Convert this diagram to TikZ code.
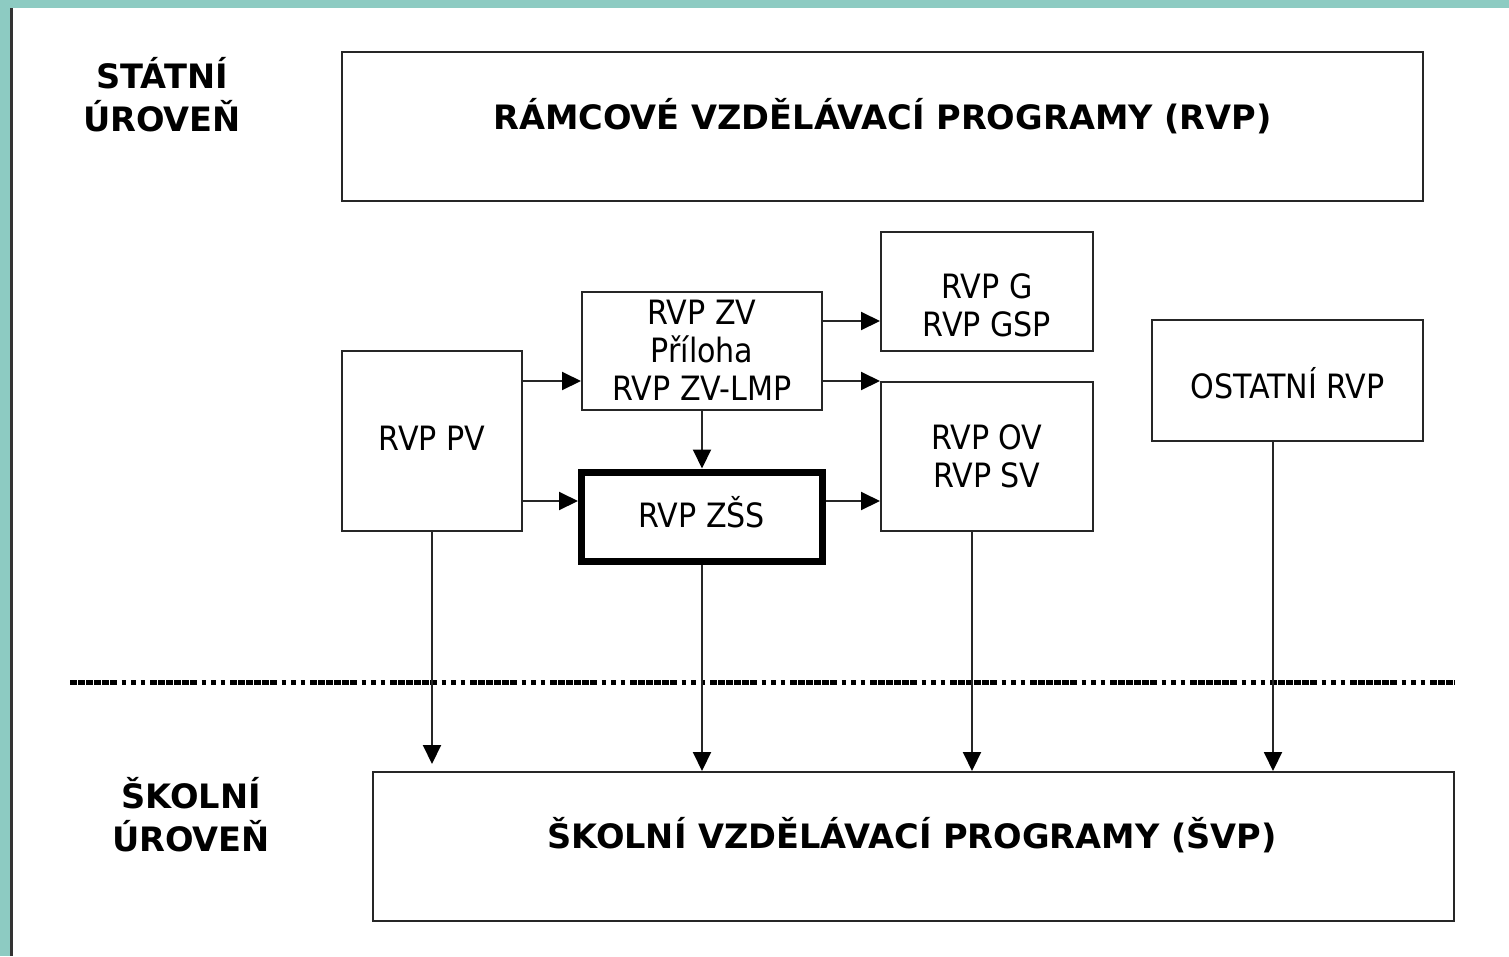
\documentclass[tikz,border=0pt]{standalone}
\usepackage{fontspec}
\setmainfont{DejaVu Sans}
\newfontfamily\condf{DejaVu Sans Condensed}
\usetikzlibrary{arrows.meta}
\definecolor{tealband}{HTML}{8DCBC2}
\definecolor{edge}{HTML}{333333}
\begin{document}
\begin{tikzpicture}[x=1pt,y=-1pt,
  box/.style={draw=black!85, line width=2pt, inner sep=0pt, fill=white},
  lbl/.style={font=\condf\fontsize{33.5}{38}\selectfont, align=center, inner sep=0pt},
  hdr/.style={font=\bfseries\fontsize{33.6}{43}\selectfont, align=center, inner sep=0pt},
  arr/.style={draw=black!85, line width=2pt, -{Triangle[length=19pt,width=18pt,color=black]}},
]
\useasboundingbox (0,0) rectangle (1509,956);
\fill[white] (0,0) rectangle (1509,956);
\fill[tealband] (0,0) rectangle (1509,8);
\fill[tealband] (0,0) rectangle (10,956);
\draw[edge, line width=2.5pt] (11.5,8) -- (11.5,956);

% separator
\draw[line width=5pt, dash pattern={on 6.5pt off 1.5pt on 6.5pt off 1.5pt on 6.5pt off 1.5pt on 6.5pt off 1.5pt on 6.5pt off 1.5pt on 6.5pt off 5pt on 4.5pt off 5pt on 4.5pt off 5pt on 4.5pt off 5pt}] (70,682) -- (1455,682);

% headers
\node[hdr] (statni) at (162,95) {STÁTNÍ\\ÚROVEŇ};
\node[hdr] (skolni) at (191,815) {ŠKOLNÍ\\ÚROVEŇ};

% big boxes
\node[box, minimum width=1081pt, minimum height=149pt] (rvp) at (882.5,126.5) {};
\node[hdr] (rvpt) at (882.5,116) {RÁMCOVÉ VZDĚLÁVACÍ PROGRAMY (RVP)};
\node[box, minimum width=1081pt, minimum height=149pt] (svp) at (913.5,846.5) {};
\node[hdr] (svpt) at (912,835) {ŠKOLNÍ VZDĚLÁVACÍ PROGRAMY (ŠVP)};

% small boxes
\node[box, minimum width=180pt, minimum height=180pt] (pv) at (432,441) {};
\node[lbl] (pvt) at (432,438) {RVP PV};
\node[box, minimum width=240pt, minimum height=118pt] (zv) at (702,351) {};
\node[lbl] (zvt) at (702,350) {RVP ZV\\Příloha\\RVP ZV-LMP};
\node[box, minimum width=212pt, minimum height=119pt] (g) at (987,291.5) {};
\node[lbl] (gt) at (987,305) {RVP G\\RVP GSP};
\node[box, minimum width=212pt, minimum height=149pt] (ov) at (987,456.5) {};
\node[lbl] (ovt) at (987,456) {RVP OV\\RVP SV};
\node[box, minimum width=271pt, minimum height=121pt] (ost) at (1287.5,380.5) {};
\node[lbl] (ostt) at (1287.5,383) {OSTATNÍ RVP};
\node[box, line width=7pt, draw=black, minimum width=241pt, minimum height=89pt] (zss) at (702,516.5) {};
\node[lbl] (zsst) at (702,512) {RVP ZŠS};

% arrows
\draw[arr] (pv.east |- 0,381) -- (zv.west |- 0,381);
\draw[arr] (pv.east |- 0,501) -- (zss.west |- 0,501);
\draw[arr] (zv.east |- 0,321) -- (g.west |- 0,321);
\draw[arr] (zv.east |- ov.north west) -- (ov.north west);
\draw[arr] (zv.south) -- (zss.north);
\draw[arr] (zss.east |- 0,501) -- (ov.west |- 0,501);

\draw[arr, shorten >=7pt] (pv.south) -- (pv.south |- svp.north);
\draw[arr] (zss.south) -- (zss.south |- svp.north);
\draw[arr] (ov.south -| 972,0) -- (svp.north -| 972,0);
\draw[arr] (ost.south -| 1273,0) -- (svp.north -| 1273,0);
\end{tikzpicture}
\end{document}
